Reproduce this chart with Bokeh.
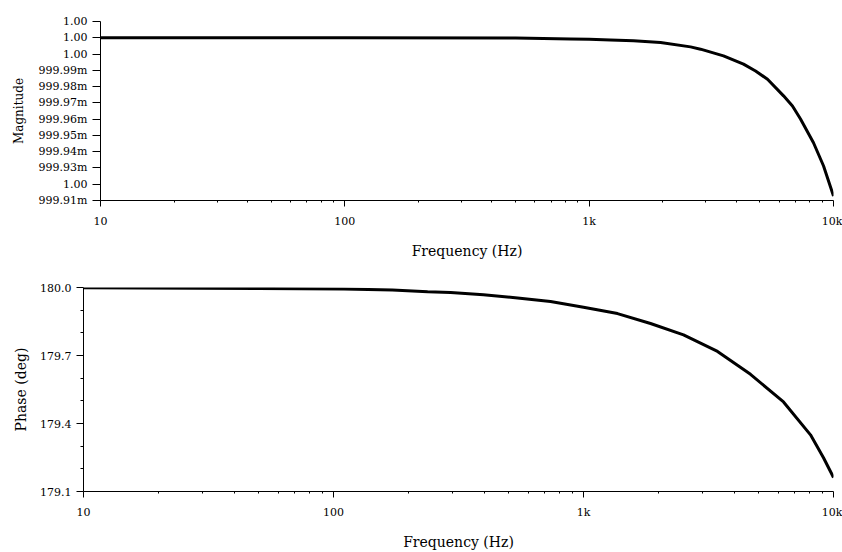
from bokeh.plotting import figure
from bokeh.models import Range1d, FixedTicker, CustomJSTickFormatter, PrintfTickFormatter
from bokeh.embed import file_html
from bokeh.resources import INLINE

# ---- data ----
freq_mag = [10, 100, 500, 839, 1000, 1222, 1519, 1959, 2599, 2856, 3546, 4282,
            4797, 5370, 6245, 6793, 7328, 8281, 9106, 10000]
magnitude = [1.0000100, 1.0000100, 1.0000098, 1.0000093, 1.0000091, 1.0000087,
             1.0000081, 1.0000071, 1.0000044, 1.0000030, 0.9999989, 0.9999938,
             0.9999896, 0.9999845, 0.9999743, 0.9999681, 0.9999601, 0.9999455,
             0.9999312, 0.9999127]

freq_ph = [10, 50, 110, 172, 238, 294, 398, 545, 738, 1000, 1368, 1854, 2512,
           3436, 4656, 6310, 8091, 9120, 10000]
phase = [179.999, 179.996, 179.993, 179.989, 179.981, 179.978, 179.968, 179.954,
         179.938, 179.913, 179.885, 179.841, 179.791, 179.718, 179.617, 179.495,
         179.350, 179.249, 179.162]

x_ticks = [10, 100, 1000, 10000]
x_tick_labels = ["10", "100", "1k", "10k"]
x_minor = [m * d for d in (10, 100, 1000) for m in range(2, 10)]

mag_ticks = [0.99991 + i * 1e-5 for i in range(12)]
mag_tick_labels = ["999.91m", "1.00", "999.93m", "999.94m", "999.95m", "999.96m",
                   "999.97m", "999.98m", "999.99m", "1.00", "1.00", "1.00"]

ph_ticks = [179.1, 179.4, 179.7, 180.0]
ph_minor = [179.2, 179.3, 179.5, 179.6, 179.8, 179.9]

FONT = "DejaVu Serif"


def style_axes(p, y_tick_out, y_minor_out):
    p.outline_line_color = None
    p.xgrid.visible = False
    p.ygrid.visible = False
    p.background_fill_color = "white"
    p.border_fill_color = "white"
    for ax in (p.xaxis[0], p.yaxis[0]):
        ax.axis_line_color = "black"
        ax.major_tick_line_color = "black"
        ax.minor_tick_line_color = "black"
        ax.major_tick_in = 0
        ax.minor_tick_in = 0
        ax.major_label_text_font = FONT
        ax.major_label_text_font_size = "11px"
        ax.major_label_text_color = "black"
        ax.axis_label_text_font = FONT
        ax.axis_label_text_font_size = "14px"
        ax.axis_label_text_font_style = "normal"
        ax.axis_label_text_color = "black"
    xa = p.xaxis[0]
    xa.ticker = FixedTicker(ticks=x_ticks, minor_ticks=x_minor)
    xa.major_label_overrides = {t: l for t, l in zip(x_ticks, x_tick_labels)}
    xa.major_tick_out = 6
    xa.minor_tick_out = 2
    xa.major_label_standoff = 8
    ya = p.yaxis[0]
    ya.major_tick_out = y_tick_out
    ya.minor_tick_out = y_minor_out
    ya.major_label_standoff = 5


# ---- top: magnitude ----
p1 = figure(width=842, height=275, x_axis_type="log",
            x_range=Range1d(10, 10000), y_range=Range1d(0.99991, 1.00002),
            output_backend="svg", toolbar_location=None,
            min_border_left=100, min_border_right=9, min_border_top=21,
            min_border_bottom=75)
p1.line(freq_mag, magnitude, line_color="black", line_width=3)
style_axes(p1, 8, 0)
p1.yaxis[0].ticker = FixedTicker(ticks=mag_ticks, minor_ticks=[])
p1.yaxis[0].formatter = CustomJSTickFormatter(args=dict(labels=mag_tick_labels),
                                              code="return labels[index];")
p1.yaxis[0].axis_label = "Magnitude"
p1.yaxis[0].axis_label_text_font_size = "12px"
p1.yaxis[0].axis_label_standoff = 10
p1.xaxis[0].axis_label = "Frequency (Hz)"
p1.xaxis[0].axis_label_standoff = 12

# ---- bottom: phase ----
p2 = figure(width=842, height=277, x_axis_type="log",
            x_range=Range1d(10, 10000), y_range=Range1d(179.1, 180.0),
            output_backend="svg", toolbar_location=None,
            min_border_left=83, min_border_right=9, min_border_top=12,
            min_border_bottom=58)
p2.line(freq_ph, phase, line_color="black", line_width=3)
style_axes(p2, 7, 3)
p2.yaxis[0].ticker = FixedTicker(ticks=ph_ticks, minor_ticks=ph_minor)
p2.yaxis[0].formatter = PrintfTickFormatter(format="%.1f")
p2.yaxis[0].axis_label = "Phase (deg)"
p2.yaxis[0].axis_label_standoff = 8
p2.xaxis[0].axis_label = "Frequency (Hz)"
p2.xaxis[0].axis_label_standoff = 12

open("out.html", "w").write(file_html([p1, p2], INLINE))
